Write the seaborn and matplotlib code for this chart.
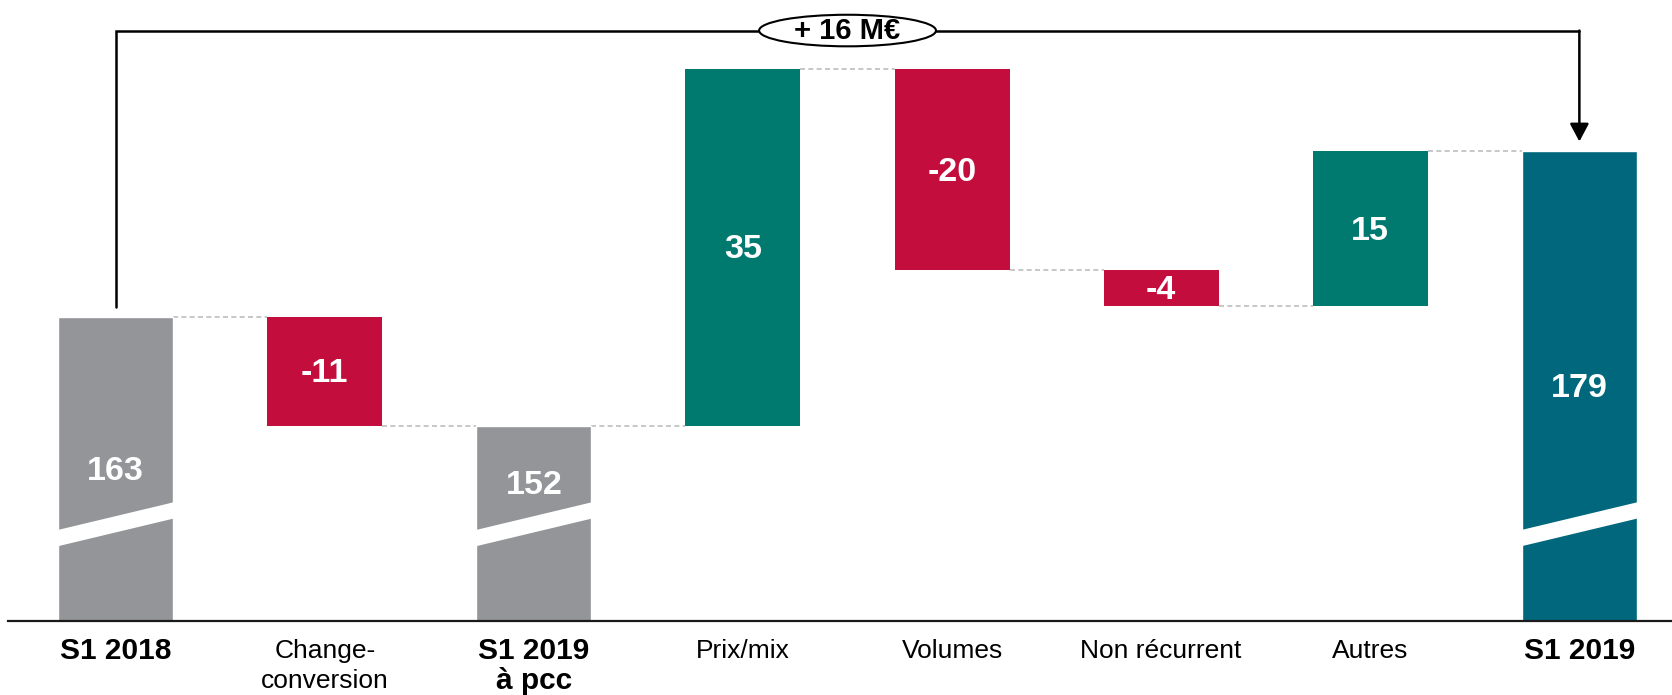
import pandas as pd
import matplotlib
matplotlib.use("Agg")
import matplotlib.pyplot as plt
import matplotlib.transforms as mtransforms
from matplotlib.patches import Ellipse
import seaborn as sns

# values (M€), labels show them rounded
labels = ["S1 2018", "Change-\nconversion", "S1 2019\nà pcc", "Prix/mix",
          "Volumes", "Non récurrent", "Autres", "S1 2019"]
values = [162.7, -10.7, 152.0, 35.0, -19.7, -3.6, 15.3, 179.0]
is_total = [True, False, True, False, False, False, False, True]

GREY = "#939598"
RED = "#C30D3D"
GREEN = "#00796F"
TEAL = "#00677C"
total_colors = {"S1 2018": GREY, "S1 2019\nà pcc": GREY, "S1 2019": TEAL}

FLOOR = 132.8    # broken axis: the totals start here
CEIL = 193.8
BAR_W = 0.55


def waterfall_table():
    rows = []
    level = 0.0
    for i, (lab, v, tot) in enumerate(zip(labels, values, is_total)):
        if tot:
            bottom, top = FLOOR, v
            level = v
        else:
            bottom, top = sorted([level, level + v])
            level = level + v
        rows.append(dict(pos=i, label=lab, value=v, total=tot,
                         bottom=bottom, top=top, level=level))
    return pd.DataFrame(rows)


def main():
    sns.set_theme(style="white")
    plt.rcParams["font.family"] = ["Liberation Sans", "DejaVu Sans"]

    df = waterfall_table()

    fig = plt.figure(figsize=(16.72, 6.95), dpi=100)
    ax = fig.add_axes([0.0048, 0.1065, 0.9952, 0.8935])

    # totals (bars from zero, clipped by the broken axis)
    sns.barplot(data=df[df.total], x="label", y="value", order=labels,
                hue="label", palette=total_colors, width=BAR_W,
                saturation=1, legend=False, ax=ax, zorder=2)

    # floating steps
    steps = df[~df.total]
    ax.bar(steps.pos, steps.top - steps.bottom, bottom=steps.bottom,
           width=BAR_W, color=[GREEN if v > 0 else RED for v in steps.value],
           linewidth=0, zorder=2)

    # axis-break stripes on the totals
    for p in df[df.total].pos:
        x0, x1 = p - BAR_W / 2 - 0.01, p + BAR_W / 2 + 0.01
        ax.fill([x0, x1, x1, x0], [140.1, 142.9, 144.5, 141.7],
                color="white", lw=0, zorder=3)

    # dashed connectors
    for i in range(len(df) - 1):
        lvl = df.level[i]
        ax.plot([i + BAR_W / 2, i + 1 - BAR_W / 2], [lvl, lvl],
                color="#BDBDBD", lw=1.2, ls=(0, (3, 2)), zorder=1)

    # value labels
    for r in df.itertuples():
        if r.total:
            y = max((FLOOR + r.top) / 2, 146.4)
        else:
            y = (r.bottom + r.top) / 2
        ax.text(r.pos, y - 0.25, f"{r.value:.0f}", ha="center", va="center",
                color="white", fontsize=24.5, fontweight="bold", zorder=4)

    # overall change bracket
    first, last = 0, len(df) - 1
    br_y = 190.8
    ax.plot([first, first, last], [df.top[first] + 0.9, br_y, br_y],
            color="black", lw=1.8, solid_joinstyle="miter", zorder=5)
    ax.annotate("", xy=(last, df.top[last] + 0.9), xytext=(last, br_y),
                arrowprops=dict(arrowstyle="-|>,head_length=0.9,head_width=0.48",
                                mutation_scale=12, lw=1.8, color="black",
                                shrinkA=0, shrinkB=0), zorder=5)
    mid = (first + last) / 2
    ax.add_patch(Ellipse((mid, br_y), 0.846, 3.1, facecolor="white",
                         edgecolor="black", lw=1.5, zorder=6))
    diff = df.value[last] - df.value[first]
    ax.text(mid, br_y, f"+ {diff:.0f} M€", ha="center", va="center",
            fontsize=21, fontweight="bold", color="black", zorder=7)

    # category labels under the baseline
    ax.set_xticks(range(len(labels)))
    ax.set_xticklabels([""] * len(labels))
    for i, (lab, tot) in enumerate(zip(labels, is_total)):
        drop = 11.8 if tot else 13.3
        trans = ax.get_xaxis_transform() + mtransforms.ScaledTranslation(
            0, -drop / 72, fig.dpi_scale_trans)
        ax.text(i, 0, lab, transform=trans, ha="center", va="top",
                fontsize=21.5 if tot else 19,
                fontweight="bold" if tot else "normal",
                linespacing=1.07 if tot else 1.31, color="black")

    ax.set_xlim(-0.515, 7.443)
    ax.set_ylim(FLOOR, CEIL)
    ax.tick_params(axis="x", length=0)
    ax.set_yticks([])
    ax.set_xlabel("")
    ax.set_ylabel("")
    sns.despine(ax=ax, left=True)
    ax.spines["bottom"].set_color("#1a1a1a")
    ax.spines["bottom"].set_linewidth(1.6)

    fig.savefig("out.png", dpi=100)


if __name__ == "__main__":
    main()
